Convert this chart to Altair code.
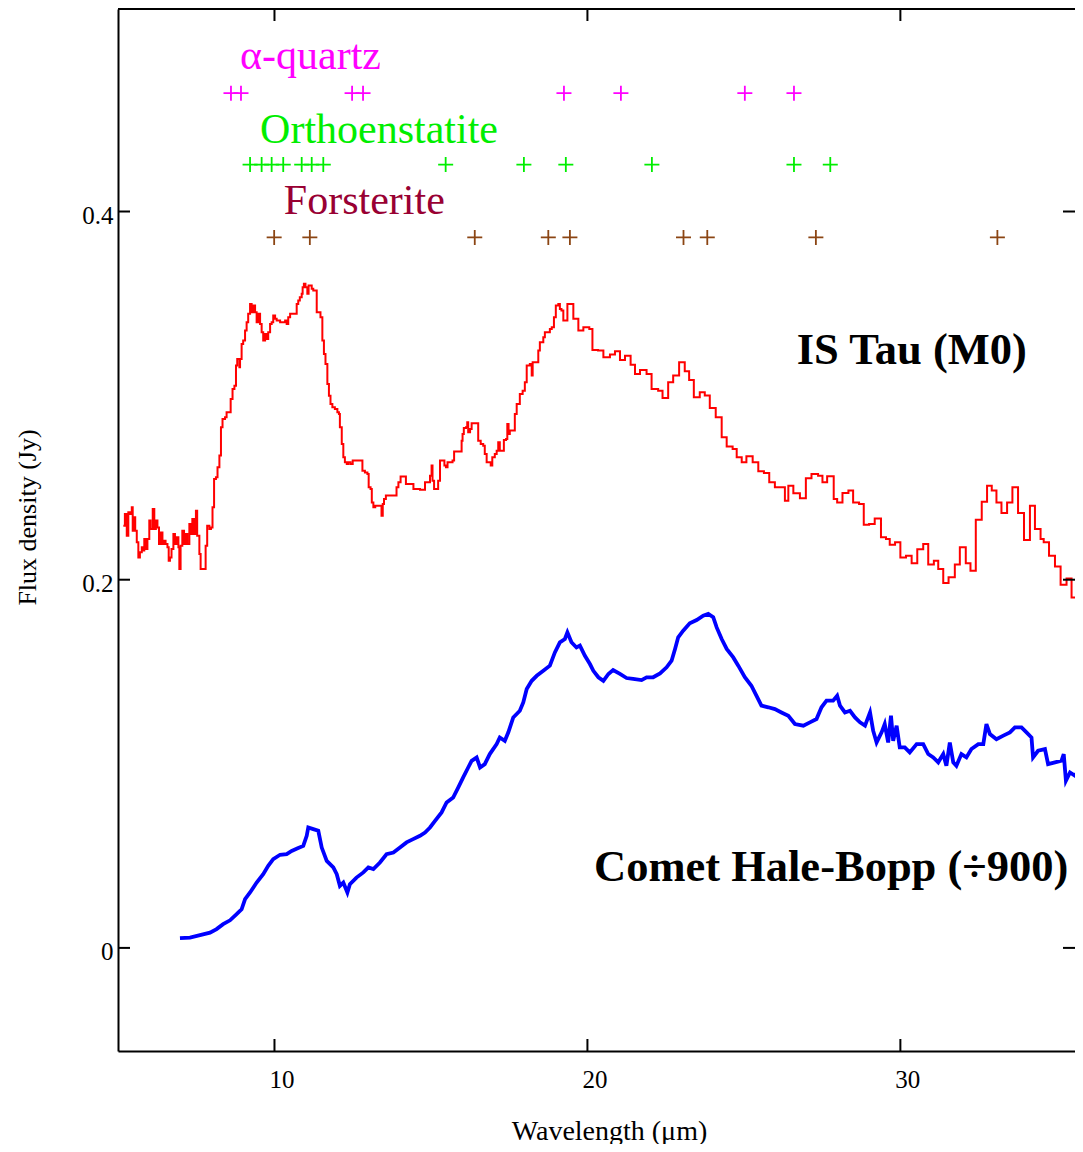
import altair as alt
import pandas as pd

# ---------------- data ----------------
red_wl = [5.17, 5.22, 5.28, 5.33, 5.38, 5.44, 5.47, 5.51, 5.55, 5.60, 5.65, 5.70, 5.76, 5.81, 5.84, 5.89,
          5.94, 6.00, 6.04, 6.11, 6.16, 6.21, 6.26, 6.31, 6.36, 6.42, 6.47, 6.52, 6.58, 6.62, 6.66, 6.71,
          6.77, 6.82, 6.87, 6.93, 6.96, 7.00, 7.055, 7.11, 7.16, 7.215, 7.28, 7.33, 7.375, 7.43, 7.49,
          7.53, 7.60, 7.64, 7.80, 7.85, 7.92, 7.97, 8.02, 8.07, 8.13, 8.18, 8.24, 8.29, 8.34, 8.42, 8.47,
          8.60, 8.66, 8.72, 8.77, 8.81, 8.88, 8.90, 8.95, 9.00, 9.06, 9.11, 9.16, 9.22, 9.27, 9.32, 9.38,
          9.43, 9.48, 9.54, 9.59, 9.64, 9.70, 9.75, 9.80, 9.86, 9.91, 9.96, 10.02, 10.07, 10.18, 10.34,
          10.39, 10.44, 10.50, 10.71, 10.76, 10.81, 10.87, 10.90, 10.94, 10.99, 11.05, 11.09, 11.19,
          11.24, 11.35, 11.47, 11.53, 11.58, 11.63, 11.69, 11.74, 11.79, 11.85, 11.93, 12.01, 12.06,
          12.09, 12.15, 12.20, 12.25, 12.31, 12.36, 12.43, 12.50, 12.81, 12.89, 12.97, 13.01, 13.07,
          13.11, 13.16, 13.22, 13.42, 13.46, 13.50, 13.56, 13.90, 13.96, 14.03, 14.20, 14.44, 14.65,
          14.81, 14.97, 15.02, 15.05, 15.10, 15.23, 15.29, 15.43, 15.48, 15.53, 15.69, 15.74, 15.98,
          16.01, 16.05, 16.12, 16.16, 16.19, 16.25, 16.30, 16.51, 16.59, 16.67, 16.72, 16.78, 16.91,
          16.96, 17.04, 17.10, 17.15, 17.20, 17.33, 17.40, 17.44, 17.48, 17.52, 17.68, 17.74, 17.84,
          17.93, 18.00, 18.06, 18.16, 18.22, 18.25, 18.43, 18.48, 18.59, 18.64, 18.80, 18.86, 18.93,
          18.99, 19.07, 19.12, 19.17, 19.23, 19.36, 19.55, 19.71, 19.87, 20.06, 20.16, 20.34, 20.51,
          20.72, 20.88, 21.04, 21.20, 21.38, 21.52, 21.68, 21.89, 22.05, 22.26, 22.40, 22.58, 22.74,
          22.93, 23.11, 23.25, 23.40, 23.59, 23.75, 23.91, 24.10, 24.29, 24.45, 24.64, 24.77, 24.93,
          25.08, 25.28, 25.46, 25.64, 25.81, 25.99, 26.31, 26.42, 26.58, 26.79, 26.98, 27.16, 27.37,
          27.51, 27.66, 27.87, 27.98, 28.15, 28.34, 28.49, 28.68, 28.83, 29.00, 29.18, 29.38, 29.54,
          29.66, 29.83, 30.00, 30.18, 30.36, 30.54, 30.73, 30.89, 31.07, 31.21, 31.37, 31.54, 31.74,
          31.90, 32.09, 32.24, 32.41, 32.60, 32.77, 32.92, 33.07, 33.23, 33.41, 33.58, 33.76, 33.95,
          34.14, 34.30, 34.48, 34.58, 34.75, 34.94, 35.12, 35.31, 35.47, 35.80]
red_flux = [0.2293, 0.2357, 0.2239, 0.2366, 0.2357, 0.2393, 0.2266, 0.2339, 0.2266, 0.2203, 0.2121,
            0.2149, 0.2176, 0.2158, 0.2221, 0.2167, 0.2221, 0.2321, 0.2275, 0.2384, 0.2275, 0.2321,
            0.2284, 0.2194, 0.2257, 0.2194, 0.2212, 0.2194, 0.2176, 0.2103, 0.2121, 0.2167, 0.2248,
            0.2194, 0.2230, 0.2176, 0.2058, 0.2185, 0.2266, 0.2194, 0.2248, 0.2194, 0.2303, 0.2248,
            0.2330, 0.2248, 0.2375, 0.2239, 0.2139, 0.2058, 0.2185, 0.2293, 0.2275, 0.2284, 0.2393,
            0.2547, 0.2556, 0.2611, 0.2674, 0.2828, 0.2873, 0.2882, 0.2909, 0.2982, 0.3036, 0.3054,
            0.3163, 0.3199, 0.3154, 0.3199, 0.3281, 0.3299, 0.3353, 0.3399, 0.3444, 0.3498, 0.3453,
            0.3489, 0.3453, 0.3399, 0.3444, 0.3389, 0.3344, 0.3299, 0.3335, 0.3308, 0.3344, 0.3389,
            0.3399, 0.3435, 0.3417, 0.3408, 0.3399, 0.3408, 0.3389, 0.3426, 0.3444, 0.3498, 0.3516,
            0.3534, 0.3553, 0.3589, 0.3607, 0.3589, 0.3553, 0.3598, 0.3580, 0.3571, 0.3453, 0.3426,
            0.3299, 0.3226, 0.3172, 0.3063, 0.2999, 0.2955, 0.2937, 0.2927, 0.2909, 0.2900, 0.2828,
            0.2737, 0.2665, 0.2638, 0.2629, 0.2638, 0.2629, 0.2647, 0.2592, 0.2583, 0.2574, 0.2502,
            0.2493, 0.2420, 0.2393, 0.2402, 0.2348, 0.2411, 0.2438, 0.2457, 0.2502, 0.2529, 0.2560,
            0.2520, 0.2493, 0.2489, 0.2529, 0.2565, 0.2620, 0.2538, 0.2493, 0.2538, 0.2647, 0.2620,
            0.2611, 0.2638, 0.2647, 0.2697, 0.2755, 0.2792, 0.2824, 0.2828, 0.2855, 0.2801, 0.2819,
            0.2850, 0.2755, 0.2737, 0.2728, 0.2683, 0.2638, 0.2620, 0.2665, 0.2683, 0.2701, 0.2746,
            0.2701, 0.2759, 0.2764, 0.2846, 0.2792, 0.2810, 0.2900, 0.2955, 0.3009, 0.3027, 0.3072,
            0.3163, 0.3172, 0.3109, 0.3181, 0.3245, 0.3290, 0.3317, 0.3344, 0.3362, 0.3371, 0.3426,
            0.3489, 0.3498, 0.3471, 0.3462, 0.3408, 0.3498, 0.3417, 0.3353, 0.3371, 0.3362, 0.3248,
            0.3245, 0.3208, 0.3223, 0.3241, 0.3194, 0.3217, 0.3168, 0.3118, 0.3139, 0.3118, 0.3036,
            0.3027, 0.2987, 0.3072, 0.3109, 0.3181, 0.3132, 0.3085, 0.2991, 0.3018, 0.3000, 0.2933,
            0.2882, 0.2774, 0.2723, 0.2710, 0.2665, 0.2638, 0.2670, 0.2638, 0.2589, 0.2580, 0.2529,
            0.2502, 0.2429, 0.2511, 0.2469, 0.2442, 0.2551, 0.2574, 0.2565, 0.2529, 0.2562, 0.2438,
            0.2420, 0.2471, 0.2484, 0.2420, 0.2411, 0.2299, 0.2303, 0.2333, 0.2230, 0.2221, 0.2190,
            0.2203, 0.2121, 0.2130, 0.2089, 0.2165, 0.2194, 0.2082, 0.2103, 0.2058, 0.1982, 0.2013,
            0.2082, 0.2176, 0.2089, 0.2049, 0.2326, 0.2424, 0.2511, 0.2484, 0.2420, 0.2362, 0.2420,
            0.2502, 0.2362, 0.2216, 0.2402, 0.2275, 0.2221, 0.2203, 0.2130, 0.2072, 0.1973, 0.2007,
            0.1904, 0.1904]

blue_wl = [6.98, 7.30, 7.62, 7.94, 8.15, 8.36, 8.58, 8.79, 8.95, 9.06, 9.22, 9.43, 9.64, 9.80, 9.96,
           10.18, 10.39, 10.55, 10.76, 10.92, 11.03, 11.08, 11.24, 11.40, 11.51, 11.67, 11.88, 11.99,
           12.09, 12.20, 12.33, 12.41, 12.62, 12.84, 13.00, 13.16, 13.37, 13.58, 13.80, 14.01, 14.22,
           14.43, 14.65, 14.81, 14.97, 15.13, 15.34, 15.50, 15.71, 15.87, 16.03, 16.19, 16.30, 16.46,
           16.57, 16.72, 16.88, 17.10, 17.20, 17.36, 17.47, 17.63, 17.84, 17.95, 18.06, 18.22, 18.38,
           18.59, 18.80, 18.96, 19.12, 19.28, 19.36, 19.49, 19.65, 19.76, 19.92, 20.08, 20.19, 20.35,
           20.51, 20.67, 20.82, 21.04, 21.25, 21.46, 21.73, 21.89, 22.10, 22.32, 22.53, 22.69, 22.80,
           22.90, 23.06, 23.27, 23.49, 23.70, 23.86, 24.02, 24.13, 24.29, 24.45, 24.66, 24.82, 25.03,
           25.24, 25.40, 25.56, 25.78, 25.99, 26.20, 26.42, 26.63, 26.90, 27.11, 27.32, 27.48, 27.64,
           27.85, 27.98, 28.07, 28.23, 28.39, 28.55, 28.71, 28.87, 29.03, 29.13, 29.24, 29.40, 29.50,
           29.61, 29.70, 29.77, 29.88, 29.98, 30.14, 30.30, 30.52, 30.73, 30.89, 31.05, 31.21, 31.37,
           31.47, 31.58, 31.69, 31.79, 31.95, 32.11, 32.27, 32.49, 32.65, 32.75, 32.86, 33.07, 33.29,
           33.50, 33.66, 33.87, 34.03, 34.19, 34.24, 34.40, 34.62, 34.72, 34.94, 35.15, 35.22, 35.29,
           35.42, 35.58, 35.78]
blue_flux = [0.0053, 0.0056, 0.0069, 0.0083, 0.0102, 0.0129, 0.0150, 0.0183, 0.0210, 0.0265, 0.0301,
             0.0355, 0.0400, 0.0446, 0.0482, 0.0506, 0.0509, 0.0527, 0.0542, 0.0554, 0.0609, 0.0654,
             0.0645, 0.0636, 0.0545, 0.0473, 0.0437, 0.0400, 0.0337, 0.0355, 0.0301, 0.0346, 0.0382,
             0.0410, 0.0437, 0.0428, 0.0464, 0.0509, 0.0518, 0.0545, 0.0573, 0.0591, 0.0609, 0.0627,
             0.0654, 0.0690, 0.0736, 0.0790, 0.0817, 0.0871, 0.0926, 0.0980, 0.1016, 0.1034, 0.0980,
             0.0998, 0.1053, 0.1107, 0.1143, 0.1125, 0.1170, 0.1252, 0.1288, 0.1333, 0.1406, 0.1451,
             0.1478, 0.1505, 0.1533, 0.1605, 0.1660, 0.1678, 0.1714, 0.1660, 0.1632, 0.1642, 0.1587,
             0.1542, 0.1505, 0.1470, 0.1451, 0.1488, 0.1509, 0.1488, 0.1466, 0.1461, 0.1455, 0.1470,
             0.1470, 0.1491, 0.1524, 0.1560, 0.1624, 0.1687, 0.1723, 0.1763, 0.1781, 0.1805, 0.1814,
             0.1796, 0.1741, 0.1678, 0.1624, 0.1578, 0.1533, 0.1470, 0.1424, 0.1370, 0.1316, 0.1307,
             0.1297, 0.1279, 0.1261, 0.1216, 0.1207, 0.1225, 0.1243, 0.1307, 0.1343, 0.1343, 0.1370,
             0.1316, 0.1279, 0.1288, 0.1252, 0.1225, 0.1207, 0.1279, 0.1180, 0.1116, 0.1171, 0.1216,
             0.1116, 0.1261, 0.1125, 0.1207, 0.1089, 0.1089, 0.1062, 0.1107, 0.1107, 0.1053, 0.1035,
             0.1008, 0.1053, 0.0989, 0.1116, 0.1008, 0.0989, 0.1053, 0.1035, 0.1080, 0.1107, 0.1107,
             0.1216, 0.1162, 0.1134, 0.1153, 0.1171, 0.1198, 0.1198, 0.1171, 0.1143, 0.1035, 0.1071,
             0.1080, 0.0998, 0.1008, 0.1017, 0.1053, 0.0908, 0.0953, 0.0935, 0.0989]

quartz_wl = [8.61, 8.93, 12.48, 12.83, 19.25, 21.07, 25.03, 26.60]
enstatite_wl = [9.22, 9.59, 9.91, 10.28, 10.87, 11.19, 11.56, 15.47, 17.97, 19.31, 22.06, 26.60, 27.76]
forsterite_wl = [9.99, 11.13, 16.40, 18.75, 19.44, 23.07, 23.83, 27.30, 33.10]
quartz_row, enstatite_row, forsterite_row = 0.4643, 0.4255, 0.3859

mineral_names = ["α-quartz", "Orthoenstatite", "Forsterite"]
mineral_label_wl = [8.90, 9.54, 10.30]
mineral_label_flux = [0.4772, 0.4370, 0.3989]
mineral_colors = ["#ff00ff", "#00ee00", "#990033"]
marker_colors = ["#ff00ff", "#00ee00", "#8b4513"]

object_names = ["IS Tau (M0)", "Comet Hale-Bopp (÷900)"]
object_label_wl = [26.69, 20.21]
object_label_flux = [0.3174, 0.0364]

x_ticks = [10, 20, 30]
y_ticks = [0, 0.2, 0.4]

# ---------------- chart ----------------
W, H = 957, 1042
FONT = "Liberation Serif"
xscale = alt.Scale(domain=[5, 35.58], nice=False, zero=False)
yscale = alt.Scale(domain=[-0.056, 0.51], nice=False, zero=False)

xaxis = alt.Axis(
    values=x_ticks, title="Wavelength (μm)", grid=False, ticks=False,
    domainColor="black", domainWidth=2, labelFont=FONT, labelFontSize=25, labelColor="black",
    labelPadding=16, labelOffset=7, titleFont=FONT, titleFontSize=28, titleFontWeight="normal",
    titleColor="black", titleX=491, titleY=88, titleBaseline="alphabetic")
yaxis = alt.Axis(
    values=y_ticks, format="~g", title="Flux density (Jy)", grid=False, ticks=False,
    domainColor="black", domainWidth=2, labelFont=FONT, labelFontSize=25, labelColor="black",
    labelPadding=5, labelOffset=4, titleFont=FONT, titleFontSize=26, titleFontWeight="normal",
    titleColor="black", titleAngle=270, titleX=-91, titleY=508, titleAlign="center",
    titleBaseline="middle")


def X(field="wl"):
    return alt.X(f"{field}:Q", scale=xscale, axis=xaxis, title="Wavelength (μm)")


def Y(field="flux"):
    return alt.Y(f"{field}:Q", scale=yscale, axis=yaxis, title="Flux density (Jy)")


red_df = pd.DataFrame({"wl": red_wl, "flux": red_flux})
blue_df = pd.DataFrame({"wl": blue_wl, "flux": blue_flux})

red = alt.Chart(red_df).mark_line(color="#ff0000", strokeWidth=2, interpolate="step-after",
                                  clip=True).encode(x=X(), y=Y())
blue = alt.Chart(blue_df).mark_line(color="#0000ff", strokeWidth=3.8, clip=True).encode(x=X(), y=Y())

plus_path = "M-1,0L1,0M0,-1L0,1"
marker_layers = []
for wls, row, col in [(quartz_wl, quartz_row, marker_colors[0]),
                      (enstatite_wl, enstatite_row, marker_colors[1]),
                      (forsterite_wl, forsterite_row, marker_colors[2])]:
    df = pd.DataFrame({"wl": wls, "flux": [row] * len(wls)})
    marker_layers.append(
        alt.Chart(df).mark_point(shape=plus_path, size=225, filled=False, strokeWidth=1.8,
                                 color=col, opacity=1).encode(x=X(), y=Y()))

text_layers = []
for name, wl, fl, col in zip(mineral_names, mineral_label_wl, mineral_label_flux, mineral_colors):
    df = pd.DataFrame({"wl": [wl], "flux": [fl], "t": [name]})
    text_layers.append(
        alt.Chart(df).mark_text(align="left", baseline="alphabetic", font=FONT, fontSize=42,
                                color=col).encode(x=X(), y=Y(), text="t:N"))
obj_df = pd.DataFrame({"wl": object_label_wl, "flux": object_label_flux, "t": object_names})
text_layers.append(
    alt.Chart(obj_df).mark_text(align="left", baseline="alphabetic", font=FONT, fontSize=44.5,
                                fontWeight="bold", color="black").encode(x=X(), y=Y(), text="t:N"))

xt_df = pd.DataFrame({"wl": x_ticks})
yt_df = pd.DataFrame({"flux": y_ticks})

top_border = alt.Chart(xt_df).mark_rule(color="black", strokeWidth=2).encode(
    x=alt.value(0), x2=alt.value(W), y=alt.value(0))
top_ticks = alt.Chart(xt_df).mark_rule(color="black", strokeWidth=2).encode(
    x=X(), y=alt.value(0), y2=alt.value(12))
bottom_ticks = alt.Chart(xt_df).mark_rule(color="black", strokeWidth=2).encode(
    x=X(), y=alt.value(H - 12), y2=alt.value(H))
left_ticks = alt.Chart(yt_df).mark_rule(color="black", strokeWidth=2).encode(
    y=Y(), x=alt.value(0), x2=alt.value(12))
right_ticks = alt.Chart(yt_df).mark_rule(color="black", strokeWidth=2).encode(
    y=Y(), x=alt.value(W - 12), x2=alt.value(W))

chart = alt.layer(red, blue, *marker_layers, *text_layers, top_border, top_ticks, bottom_ticks,
                  left_ticks, right_ticks).properties(
    width=W, height=H,
    autosize=alt.AutoSizeParams(type="none"),
    padding={"left": 110, "top": 1, "right": 0, "bottom": 93},
).configure_view(stroke=None)

chart.save("out.html", embed_options={"renderer": "svg", "actions": False})
